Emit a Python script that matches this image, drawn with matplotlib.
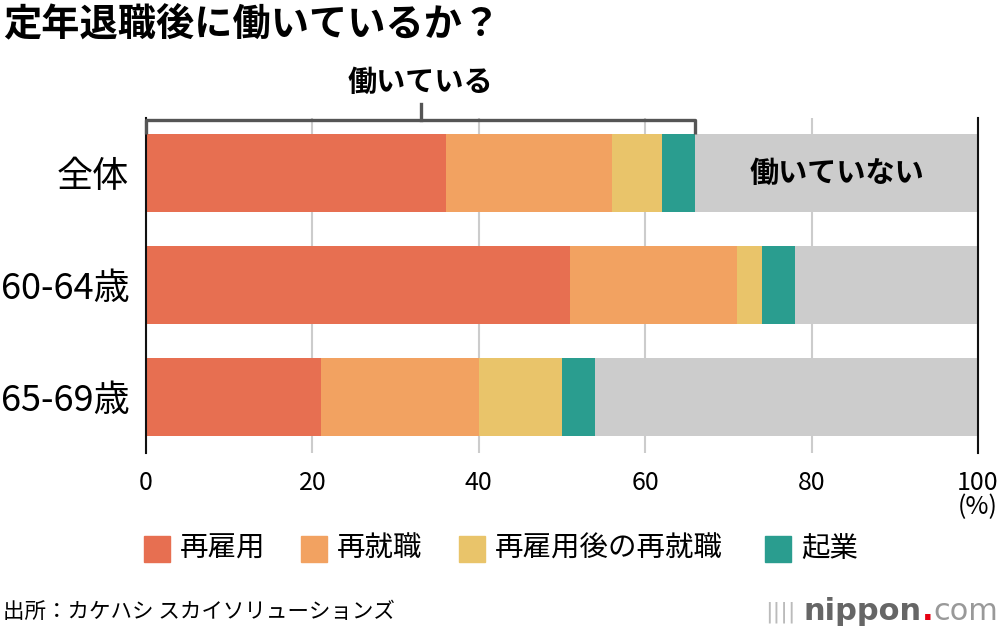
import matplotlib
matplotlib.use("Agg")
import matplotlib.pyplot as plt
from matplotlib.patches import Rectangle

plt.rcParams['font.family'] = ['Noto Sans CJK JP', 'DejaVu Sans']

# data (%)
groups = ["全体", "60-64歳", "65-69歳"]
series = ["再雇用", "再就職", "再雇用後の再就職", "起業"]
saikoyo = [36, 51, 21]
saishushoku = [20, 20, 19]
saikoyo_go = [6, 3, 10]
kigyo = [4, 4, 4]
colors = ["#E76F51", "#F2A261", "#E9C46A", "#2A9D8F"]
rest_color = "#CCCCCC"
xticks = [0, 20, 40, 60, 80, 100]

values = [saikoyo, saishushoku, saikoyo_go, kigyo]

fig = plt.figure(figsize=(10, 6.34), dpi=100)
ax = fig.add_axes([0.146, 0.2855, 0.832, 0.5284])

y = list(range(len(groups)))
left = [0] * len(groups)
for vals, c in zip(values, colors):
    ax.barh(y, vals, left=left, height=0.7, color=c, zorder=2)
    left = [l + v for l, v in zip(left, vals)]
working = left
ax.barh(y, [100 - w for w in working], left=working, height=0.7,
        color=rest_color, zorder=2)

ax.set_xlim(0, 100)
ax.set_ylim(2.5, -0.491)
ax.set_xticks(xticks)
ax.set_xticklabels([str(t) for t in xticks], fontsize=18)
ax.set_yticks(y)
ax.set_yticklabels(groups, fontsize=26)
ax.tick_params(axis='x', length=0, pad=12)
ax.tick_params(axis='y', length=0, pad=12)
ax.grid(axis='x', color='#cccccc', linewidth=1.5, zorder=0)
for s in ['top', 'bottom']:
    ax.spines[s].set_visible(False)
for s in ['left', 'right']:
    ax.spines[s].set_color('#111111')
    ax.spines[s].set_linewidth(1.5)
    ax.spines[s].set_zorder(3)

ax.text(100, 2.98, "(%)", ha='center', va='center', fontsize=18)

# bracket for working people
w0 = working[0]
top = -0.473
ax.plot([0, 0, w0, w0], [-0.35, top, top, -0.35], color='#555555',
        lw=2.4, clip_on=False, zorder=4, solid_capstyle='butt')
ax.plot([w0 / 2, w0 / 2], [top, -0.616], color='#555555', lw=2.4,
        clip_on=False, zorder=4)
ax.text(w0 / 2, -0.81, "働いている", ha='center', va='center',
        fontsize=21, fontweight='bold')
ax.text((w0 + 100) / 2, 0, "働いていない", ha='center', va='center',
        fontsize=21, fontweight='bold', zorder=5)

# title
fig.text(0.003, 0.963, "定年退職後に働いているか？", ha='left', va='center',
         fontsize=27.5, fontweight='bold')

# legend
leg_x = [0.144, 0.301, 0.459, 0.765]
for lx, name, c in zip(leg_x, series, colors):
    fig.patches.append(Rectangle((lx, 0.113), 0.026, 0.041,
                                 transform=fig.transFigure, color=c))
    fig.text(lx + 0.036, 0.134, name, ha='left', va='center', fontsize=20.5)

# footer
fig.text(0.003, 0.035, "出所：カケハシ スカイソリューションズ", ha='left',
         va='center', fontsize=15.5)

# logo: nippon.com, pieces placed right to left
fig.canvas.draw()
r = fig.canvas.get_renderer()
x = 0.998
for part, col, wt in [("com", '#999999', 'normal'), (".", '#e60012', 'bold'),
                      ("nippon", '#666666', 'bold')]:
    t = fig.text(x, 0.035, part, ha='right', va='center', fontsize=22,
                 fontweight=wt, color=col, family='DejaVu Sans')
    bb = t.get_window_extent(renderer=r)
    x -= bb.width / fig.bbox.width
fig.text(x - 0.008, 0.035, "||||", ha='right', va='center', fontsize=16,
         color='#bbbbbb', family='DejaVu Sans')

fig.savefig("out.png", dpi=100)
